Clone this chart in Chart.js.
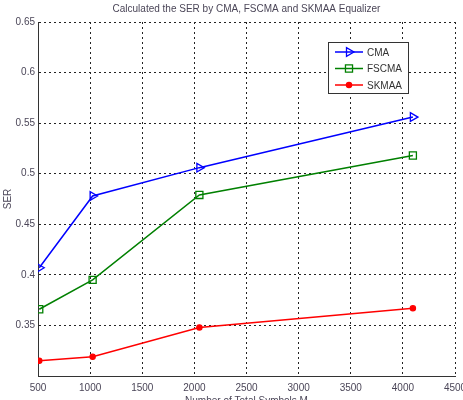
<!DOCTYPE html>
<html lang="en">
  <head>
    <meta charset="UTF-8" />
    <title>SER chart</title>
    <script src="https://cdn.jsdelivr.net/npm/chart.js"></script>
    <style>
      html, body { margin: 0; padding: 0; background: #fff; }
      #wrap { width: 463px; height: 400px; }
    </style>
  </head>
  <body>
    <div id="wrap"><canvas id="myChart" width="463" height="400"></canvas></div>

    <script>
      // data
      const symbols = [512, 1024, 2048, 4096];
      const cma = [0.407, 0.478, 0.506, 0.556];
      const fscma = [0.366, 0.395, 0.479, 0.518];
      const skmaa = [0.315, 0.319, 0.348, 0.367];
      const seriesNames = ["CMA", "FSCMA", "SKMAA"];

      const xMin = 500, xMax = 4500, xStep = 500;
      const yMin = 0.3, yMax = 0.65, yStep = 0.05;

      const tickColor = "#4b4658";
      const fontFamily = "Arial, 'Liberation Sans', sans-serif";

      function series(label, values, color, style, radius, fill) {
        return {
          label: label,
          data: symbols.map(function (s, i) { return { x: s, y: values[i] }; }),
          borderColor: color,
          backgroundColor: fill,
          pointBorderColor: color,
          pointBackgroundColor: fill,
          pointStyle: style,
          pointRadius: radius,
          pointRotation: style === "triangle" ? 90 : 0,
          pointBorderWidth: 1.3,
          borderWidth: 1.5,
          tension: 0
        };
      }

      const datasets = [
        series(seriesNames[0], cma, "#0000ff", "triangle", 5, "rgba(0,0,0,0)"),
        series(seriesNames[1], fscma, "#008000", "rect", 5, "rgba(0,0,0,0)"),
        series(seriesNames[2], skmaa, "#ff0000", "circle", 2.6, "#ff0000")
      ];

      // matlab-like legend box in the upper right
      const boxLegend = {
        id: "boxLegend",
        afterDraw(chart) {
          const ctx = chart.ctx;
          const x0 = 328, y0 = 42, w = 80, h = 51;
          ctx.save();
          ctx.fillStyle = "#fff";
          ctx.fillRect(x0, y0, w, h);
          ctx.strokeStyle = "#333";
          ctx.lineWidth = 1;
          ctx.strokeRect(x0 + 0.5, y0 + 0.5, w, h);
          chart.data.datasets.forEach(function (ds, i) {
            const y = y0 + 10 + i * 16.5;
            ctx.strokeStyle = ds.borderColor;
            ctx.lineWidth = 1.5;
            ctx.beginPath();
            ctx.moveTo(x0 + 7, y);
            ctx.lineTo(x0 + 35, y);
            ctx.stroke();
            ctx.fillStyle = ds.pointBackgroundColor;
            ctx.lineWidth = 1.3;
            Chart.helpers.drawPoint(ctx, {
              pointStyle: ds.pointStyle,
              radius: ds.pointRadius,
              rotation: ds.pointRotation,
              borderWidth: 1.3
            }, x0 + 21, y);
            ctx.fillStyle = "#333";
            ctx.font = "10px " + fontFamily;
            ctx.textBaseline = "middle";
            ctx.textAlign = "left";
            ctx.fillText(ds.label, x0 + 39, y + 1);
          });
          ctx.restore();
        }
      };

      const config = {
        type: "line",
        data: { datasets: datasets },
        plugins: [boxLegend],
        options: {
          responsive: false,
          animation: false,
          layout: { padding: { left: 0, right: 8, top: 0, bottom: 0 } },
          plugins: {
            legend: { display: false },
            tooltip: { enabled: false },
            title: {
              display: true,
              fullSize: false,
              text: "Calculated the SER by CMA, FSCMA and SKMAA Equalizer",
              color: "#4b4658",
              font: { family: fontFamily, size: 10, weight: "normal" },
              padding: { top: 3, bottom: 7 }
            }
          },
          scales: {
            x: {
              type: "linear",
              min: xMin,
              max: xMax,
              ticks: {
                stepSize: xStep,
                color: tickColor,
                padding: 6,
                maxRotation: 0,
                font: { family: fontFamily, size: 10 },
                callback: function (v) { return String(v); }
              },
              grid: { color: "#222", drawTicks: false, lineWidth: 1 },
              border: { display: true, color: "#333", width: 1, dash: [2, 3] },
              title: {
                display: true,
                text: "Number of Total Symbols M",
                color: tickColor,
                font: { family: fontFamily, size: 10 },
                padding: { top: 0, bottom: -7 }
              },
              afterFit(scale) {
                scale.height = 24;
                scale.paddingLeft = 0;
                scale.paddingRight = 0;
              }
            },
            y: {
              min: yMin,
              max: yMax,
              ticks: {
                stepSize: yStep,
                color: tickColor,
                padding: 3,
                font: { family: fontFamily, size: 10 },
                callback: function (v) {
                  if (Math.abs(v - yMin) < 1e-9) return "";
                  return String(Math.round(v * 100) / 100);
                }
              },
              grid: { color: "#222", drawTicks: false, lineWidth: 1 },
              border: { display: true, color: "#333", width: 1, dash: [2, 3] },
              title: {
                display: true,
                text: "SER",
                color: tickColor,
                font: { family: fontFamily, size: 10 },
                padding: { top: 2, bottom: 0 }
              },
              afterFit(scale) {
                scale.width = 38;
              }
            }
          }
        }
      };

      const myChart = new Chart(document.getElementById("myChart"), config);
    </script>
  </body>
</html>
